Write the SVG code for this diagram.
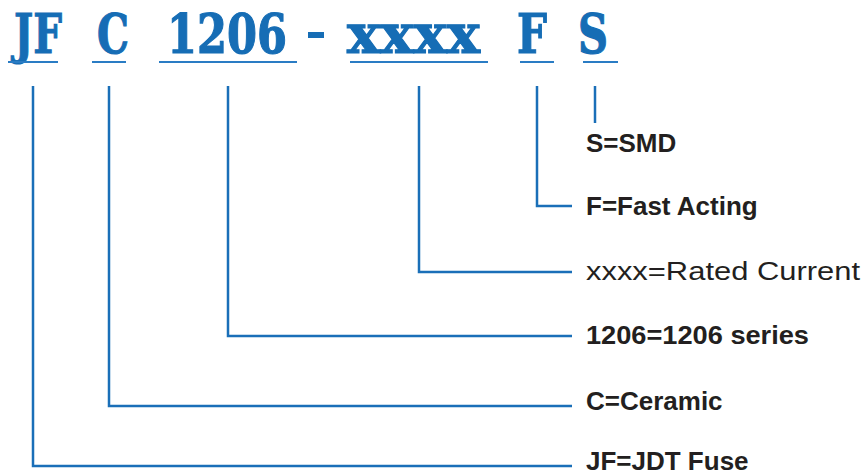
<svg xmlns="http://www.w3.org/2000/svg" width="866" height="476" viewBox="0 0 866 476">
<style>
.code{font-family:"DejaVu Serif","Liberation Serif",serif;font-weight:bold;font-size:55px;fill:#166db5;stroke:#166db5;stroke-width:1.2}
.ul{stroke:#2a7cc4;stroke-width:2;fill:none}
.lbl{font-family:"Liberation Sans",Arial,sans-serif;font-weight:bold;font-size:26px;fill:#231f20}
.reg{font-weight:normal}
.conn{stroke:#1a6fb8;stroke-width:2.5;fill:none}
</style>
<rect width="866" height="476" fill="#fff"/>
<g id="conn">
<path class="conn" d="M33,86V466H572"/>
<path class="conn" d="M109,86V406H572"/>
<path class="conn" d="M228,86V336H572"/>
<path class="conn" d="M419,86V272H572"/>
<path class="conn" d="M537,86V206H572"/>
<path class="conn" d="M595,86V123"/>
</g>
<g id="code-jf">
<text class="code" x="14" y="53" textLength="48" lengthAdjust="spacingAndGlyphs">JF</text>
<line class="ul" x1="8" y1="62" x2="58" y2="62"/>
<text class="lbl" x="586" y="470">JF=JDT Fuse</text>
</g>
<g id="code-c">
<text class="code" x="97" y="53" textLength="32" lengthAdjust="spacingAndGlyphs">C</text>
<line class="ul" x1="92" y1="62" x2="126" y2="62"/>
<text class="lbl" x="586" y="410">C=Ceramic</text>
</g>
<g id="code-1206">
<text class="code" x="167" y="53" textLength="120" lengthAdjust="spacingAndGlyphs">1206</text>
<line class="ul" x1="159" y1="62" x2="297" y2="62"/>
<text class="lbl" x="586" y="344" textLength="223" lengthAdjust="spacingAndGlyphs">1206=1206 series</text>
</g>
<g id="dash">
<rect x="308" y="32" width="16" height="6" fill="#166db5"/>
</g>
<g id="code-xxxx">
<text class="code" x="347" y="53" textLength="133" lengthAdjust="spacingAndGlyphs">xxxx</text>
<line class="ul" x1="350" y1="62" x2="488" y2="62"/>
<text class="lbl reg" x="586" y="280" textLength="274" lengthAdjust="spacingAndGlyphs">xxxx=Rated Current</text>
</g>
<g id="code-f">
<text class="code" x="517" y="53" textLength="30" lengthAdjust="spacingAndGlyphs">F</text>
<line class="ul" x1="520" y1="62" x2="554" y2="62"/>
<text class="lbl" x="586" y="215">F=Fast Acting</text>
</g>
<g id="code-s">
<text class="code" x="578" y="53" textLength="30" lengthAdjust="spacingAndGlyphs">S</text>
<line class="ul" x1="583" y1="62" x2="618" y2="62"/>
<text class="lbl" x="586" y="152">S=SMD</text>
</g>
</svg>
